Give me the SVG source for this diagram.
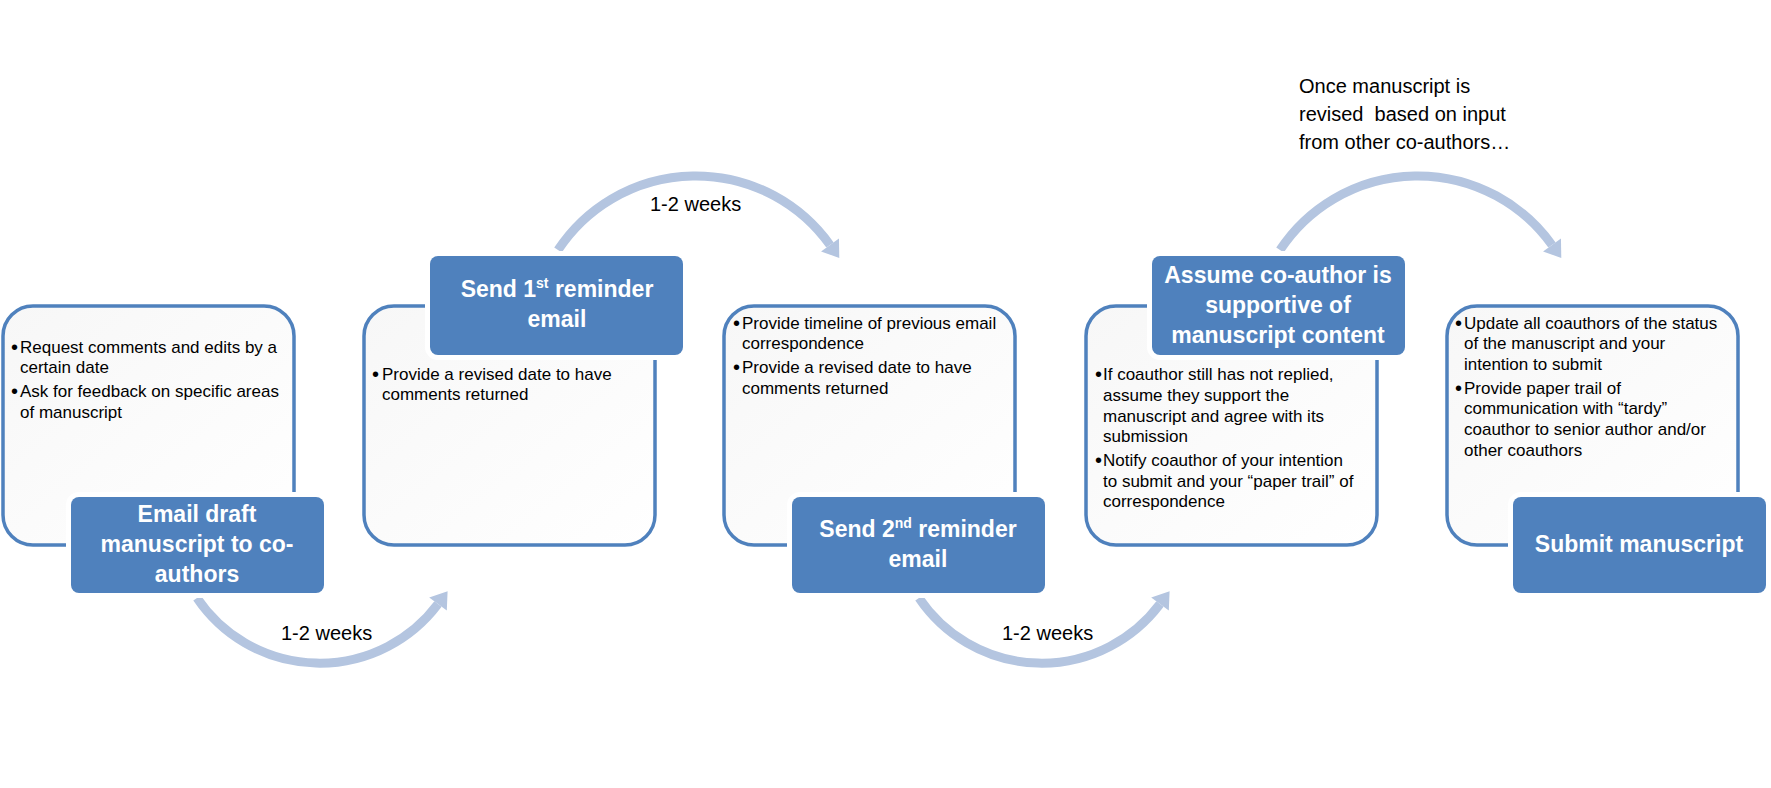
<svg xmlns="http://www.w3.org/2000/svg" width="1771" height="788" viewBox="0 0 1771 788">
<style>
.frame{fill:url(#bg);stroke:#4f81bd;stroke-width:3.5}
.tag{fill:#4f81bd;stroke:#ffffff;stroke-width:10;paint-order:stroke}
.ttl{font-family:"Liberation Sans",Arial,sans-serif;font-weight:bold;font-size:23px;fill:#ffffff;text-anchor:middle}
.bl{font-family:"Liberation Sans",Arial,sans-serif;font-size:17px;fill:#000000}
.dot{font-family:"Liberation Sans",Arial,sans-serif;font-size:20px;fill:#000000}
.lbl{font-family:"Liberation Sans",Arial,sans-serif;font-size:20px;fill:#000000}
.arc{fill:none;stroke:#b4c5e0;stroke-width:9;marker-end:url(#ah)}
</style>
<defs>
<linearGradient id="bg" x1="0" y1="0" x2="1" y2="1">
<stop offset="0" stop-color="#f7f7f7"/>
<stop offset="1" stop-color="#ffffff"/>
</linearGradient>
<marker id="ah" markerUnits="userSpaceOnUse" markerWidth="20" markerHeight="26" viewBox="-1 -13 18 26" refX="0" refY="0" orient="auto">
<path d="M0,-11 L16,0 L0,11 Z" fill="#b4c5e0"/>
</marker>
</defs>
<rect width="1771" height="788" fill="#ffffff"/>
<g id="connectors">
<path class="arc" d="M197,598 A148,148 0 0,0 438,604"/>
<path class="arc" d="M558,250 A165,165 0 0,1 830,245"/>
<path class="arc" d="M919,598 A148,148 0 0,0 1160,604"/>
<path class="arc" d="M1280,250 A165,165 0 0,1 1552,245"/>
<text class="lbl" x="281" y="640">1-2 weeks</text>
<text class="lbl" x="650" y="211">1-2 weeks</text>
<text class="lbl" x="1002" y="640">1-2 weeks</text>
</g>
<g id="note">
<text class="lbl" x="1299" y="93">Once manuscript is</text>
<text class="lbl" x="1299" y="121">revised&#160; based on input</text>
<text class="lbl" x="1299" y="149">from other co-authors…</text>
</g>
<g id="step1">
<rect class="frame" x="3" y="306" width="291" height="239" rx="30"/>
<text class="dot" x="11" y="354">•</text>
<text class="bl" x="20" y="353">Request comments and edits by a</text>
<text class="bl" x="20" y="373">certain date</text>
<text class="dot" x="11" y="398">•</text>
<text class="bl" x="20" y="397">Ask for feedback on specific areas</text>
<text class="bl" x="20" y="418">of manuscript</text>
<rect class="tag" x="71" y="497" width="253" height="96" rx="8"/>
<text class="ttl" x="197" y="522">Email draft</text>
<text class="ttl" x="197" y="552">manuscript to co-</text>
<text class="ttl" x="197" y="582">authors</text>
</g>
<g id="step2">
<rect class="frame" x="364" y="306" width="291" height="239" rx="30"/>
<text class="dot" x="372" y="381">•</text>
<text class="bl" x="382" y="380">Provide a revised date to have</text>
<text class="bl" x="382" y="400">comments returned</text>
<rect class="tag" x="430" y="256" width="253" height="99" rx="8"/>
<text class="ttl" x="557" y="297">Send 1<tspan font-size="14" dy="-9">st</tspan><tspan dy="9"> reminder</tspan></text>
<text class="ttl" x="557" y="327">email</text>
</g>
<g id="step3">
<rect class="frame" x="724" y="306" width="291" height="239" rx="30"/>
<text class="dot" x="733" y="330">•</text>
<text class="bl" x="742" y="329">Provide timeline of previous email</text>
<text class="bl" x="742" y="349">correspondence</text>
<text class="dot" x="733" y="374">•</text>
<text class="bl" x="742" y="373">Provide a revised date to have</text>
<text class="bl" x="742" y="394">comments returned</text>
<rect class="tag" x="792" y="497" width="253" height="96" rx="8"/>
<text class="ttl" x="918" y="537">Send 2<tspan font-size="14" dy="-9">nd</tspan><tspan dy="9"> reminder</tspan></text>
<text class="ttl" x="918" y="567">email</text>
</g>
<g id="step4">
<rect class="frame" x="1086" y="306" width="291" height="239" rx="30"/>
<text class="dot" x="1095" y="381">•</text>
<text class="bl" x="1103" y="380">If coauthor still has not replied,</text>
<text class="bl" x="1103" y="401">assume they support the</text>
<text class="bl" x="1103" y="422">manuscript and agree with its</text>
<text class="bl" x="1103" y="442">submission</text>
<text class="dot" x="1095" y="467">•</text>
<text class="bl" x="1103" y="466">Notify coauthor of your intention</text>
<text class="bl" x="1103" y="487">to submit and your “paper trail” of</text>
<text class="bl" x="1103" y="507">correspondence</text>
<rect class="tag" x="1152" y="256" width="253" height="99" rx="8"/>
<text class="ttl" x="1278" y="283">Assume co-author is</text>
<text class="ttl" x="1278" y="313">supportive of</text>
<text class="ttl" x="1278" y="343">manuscript content</text>
</g>
<g id="step5">
<rect class="frame" x="1447" y="306" width="291" height="239" rx="30"/>
<text class="dot" x="1455" y="330">•</text>
<text class="bl" x="1464" y="329">Update all coauthors of the status</text>
<text class="bl" x="1464" y="349">of the manuscript and your</text>
<text class="bl" x="1464" y="370">intention to submit</text>
<text class="dot" x="1455" y="395">•</text>
<text class="bl" x="1464" y="394">Provide paper trail of</text>
<text class="bl" x="1464" y="414">communication with “tardy”</text>
<text class="bl" x="1464" y="435">coauthor to senior author and/or</text>
<text class="bl" x="1464" y="456">other coauthors</text>
<rect class="tag" x="1513" y="497" width="253" height="96" rx="8"/>
<text class="ttl" x="1639" y="552">Submit manuscript</text>
</g>
</svg>
